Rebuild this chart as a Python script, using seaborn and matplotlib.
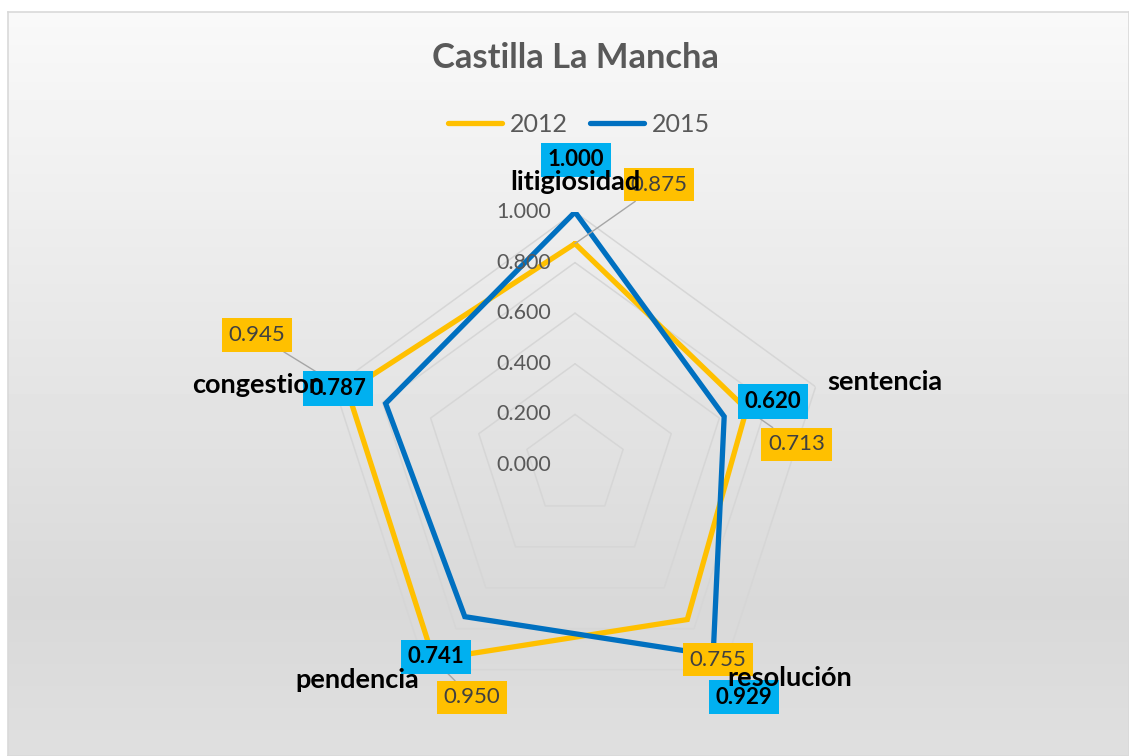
import numpy as np
import pandas as pd
import matplotlib
matplotlib.use("Agg")
import matplotlib.pyplot as plt
from matplotlib.lines import Line2D
import seaborn as sns

# data
categories = ["litigiosidad", "sentencia", "resolución", "pendencia", "congestion"]
vals_2012 = [0.875, 0.713, 0.755, 0.950, 0.945]
vals_2015 = [1.000, 0.620, 0.929, 0.741, 0.787]
years = ["2012", "2015"]
r_ticks = [0.0, 0.2, 0.4, 0.6, 0.8, 1.0]
title = "Castilla La Mancha"

sns.set_style("white")
plt.rcParams["font.family"] = ["Lato", "DejaVu Sans"]

line_colors = {"2012": "#FFC000", "2015": "#0070C0"}
box_colors = {"2012": "#FFC000", "2015": "#00B0F0"}

n = len(categories)
angles = np.linspace(0, 2 * np.pi, n, endpoint=False)

# long table, first point repeated to close the polygon
rows = []
for year, vals in zip(years, [vals_2012, vals_2015]):
    for i in list(range(n)) + [0]:
        rows.append({"year": year, "angle": angles[i], "value": vals[i]})
df = pd.DataFrame(rows)

W, H, DPI = 1129, 756, 100
fig = plt.figure(figsize=(W / DPI, H / DPI), dpi=DPI)
fig.patch.set_facecolor("white")

# chart area background (gradient) and border
bg = fig.add_axes([8 / W, 0, 1 - 8 / W, (H - 12) / H], zorder=0)
grad = np.concatenate([np.linspace(0.975, 0.85, 80), np.linspace(0.85, 0.875, 20)])
bg.imshow(grad[:, None], aspect="auto", cmap="gray", vmin=0, vmax=1,
          extent=[0, 1, 0, 1], interpolation="bicubic")
bg.set_xlim(0, 1)
bg.set_ylim(0, 1)
for s in bg.spines.values():
    s.set_color("#d9d9d9")
    s.set_linewidth(1.2)
bg.set_xticks([])
bg.set_yticks([])

# radar axes: centre at (575, 465) px, radius 253 px
cx, cy, R = 575, 465, 253
ax = fig.add_axes([(cx - R) / W, (H - cy - R) / H, 2 * R / W, 2 * R / H],
                  projection="polar", zorder=1)
ax.set_theta_offset(np.pi / 2)
ax.set_theta_direction(-1)
ax.set_ylim(0, 1)
ax.patch.set_alpha(0)
ax.spines["polar"].set_visible(False)
ax.grid(False)

# pentagon gridlines
closed = np.append(angles, angles[0])
for r in r_ticks[1:]:
    ax.plot(closed, [r] * (n + 1), color="#d6d6d6", lw=1.1, zorder=1)

# radial tick labels
for r in r_ticks:
    ax.annotate(f"{r:.3f}", xy=(0, r), xytext=(-24, 0), textcoords="offset pixels",
                ha="right", va="center", fontsize=15.5, color="#595959",
                annotation_clip=False, zorder=3)

# series
for year in years:
    sub = df[df["year"] == year]
    sns.lineplot(data=sub, x="angle", y="value", sort=False, estimator=None,
                 color=line_colors[year], lw=3.8, ax=ax, zorder=2,
                 solid_joinstyle="miter", legend=False)
ax.set_xlabel("")
ax.set_ylabel("")
ax.set_xticks([])
ax.set_yticks([])
ax.set_ylim(0, 1)

# data labels
label_offsets = {
    "2012": [(84, 59), (50, -35), (31, -40), (38, -38), (-91, 56)],
    "2015": [(1, 52), (49, 15), (31, -42), (-29, -40), (-48, 15)],
}
leaders = {"2012": [True, True, False, True, True], "2015": [False] * n}
for year, vals in zip(years, [vals_2012, vals_2015]):
    for i, v in enumerate(vals):
        style = dict(color="#404040", fontweight="normal") if year == "2012" \
            else dict(color="black", fontweight="bold")
        arrow = dict(arrowstyle="-", color="#a6a6a6", lw=1, shrinkA=0, shrinkB=0) \
            if leaders[year][i] else None
        ax.annotate(f"{v:.3f}", xy=(angles[i], v), xytext=label_offsets[year][i],
                    textcoords="offset pixels", ha="center", va="center",
                    fontsize=16, annotation_clip=False, zorder=5,
                    bbox=dict(boxstyle="square,pad=0.3", fc=box_colors[year], ec="none"),
                    arrowprops=arrow, **style)

# category labels
cat_offsets = [(0, 30), (69, 5), (66, -8), (-69, -10), (-76, 2)]
for i, cat in enumerate(categories):
    ax.annotate(cat, xy=(angles[i], 1.0), xytext=cat_offsets[i],
                textcoords="offset pixels", ha="center", va="center",
                fontsize=19.5, fontweight="bold", color="black",
                annotation_clip=False, zorder=6)

# title and legend
fig.text(575 / W, 1 - 58 / H, title, ha="center", va="center",
         fontsize=24.8, fontweight="bold", color="#595959")
handles = [Line2D([], [], color=line_colors[y], lw=3.8, solid_capstyle="round") for y in years]
fig.legend(handles, years, loc="center", bbox_to_anchor=(579 / W, 1 - 124 / H),
           ncol=2, frameon=False, fontsize=18, labelcolor="#595959",
           handlelength=2.15, handletextpad=0.3, columnspacing=0.9)

fig.savefig("out.png", dpi=DPI)
